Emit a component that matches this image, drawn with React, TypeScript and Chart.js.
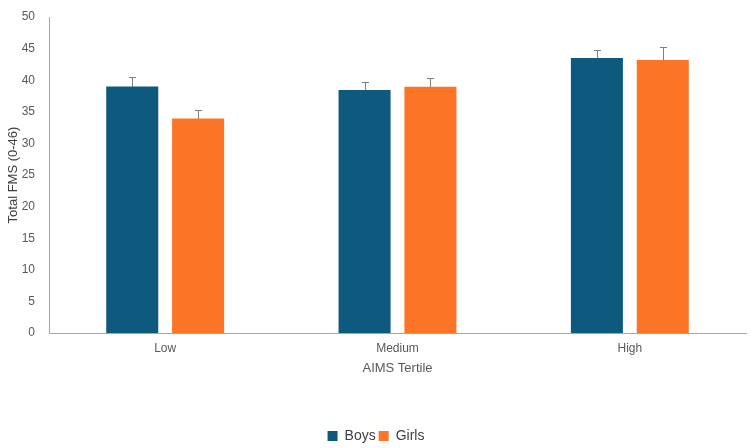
import React, { useEffect, useRef } from "react";
import { Chart, registerables } from "chart.js";

Chart.register(...registerables);

const categories = ["Low", "Medium", "High"];
const boysValues = [39.0, 38.45, 43.5];
const girlsValues = [33.95, 38.95, 43.2];
const boysErrors = [1.5, 1.3, 1.2];
const girlsErrors = [1.3, 1.38, 2.0];
const yTicks = [0, 5, 10, 15, 20, 25, 30, 35, 40, 45, 50];

const errorBarPlugin = {
  id: "errorBars",
  beforeDatasetsDraw(chart: any) {
    const ctx = chart.ctx;
    const yScale = chart.scales.y;
    const errs = [boysErrors, girlsErrors];
    chart.data.datasets.forEach((ds: any, di: number) => {
      const meta = chart.getDatasetMeta(di);
      meta.data.forEach((bar: any, i: number) => {
        const v = ds.data[i];
        const e = errs[di][i];
        const yTop = yScale.getPixelForValue(v + e);
        const yBot = yScale.getPixelForValue(v - e);
        const x = Math.round(bar.x) + 0.5;
        ctx.save();
        ctx.strokeStyle = "#7f7f7f";
        ctx.lineWidth = 1;
        ctx.beginPath();
        ctx.moveTo(x, yBot);
        ctx.lineTo(x, yTop);
        ctx.moveTo(x - 3.5, Math.round(yTop) + 0.5);
        ctx.lineTo(x + 3.5, Math.round(yTop) + 0.5);
        ctx.stroke();
        ctx.restore();
      });
    });
  },
};

export default function App() {
  const ref = useRef<HTMLCanvasElement | null>(null);
  useEffect(() => {
    if (!ref.current) return;
    const chart = new Chart(ref.current, {
      type: "bar",
      data: {
        labels: categories,
        datasets: [
          { label: "Boys", data: boysValues, backgroundColor: "#0e5a7e", borderWidth: 0 },
          { label: "Girls", data: girlsValues, backgroundColor: "#fc7527", borderWidth: 0 },
        ],
      },
      options: {
        animation: false,
        responsive: false,
        maintainAspectRatio: false,
        layout: { padding: { top: 0, right: 5, left: 6, bottom: -5 } },
        datasets: { bar: { categoryPercentage: 0.567, barPercentage: 0.79 } },
        plugins: {
          legend: {
            position: "bottom",
            labels: {
              boxWidth: 10,
              boxHeight: 10,
              color: "#404040",
              font: { family: "Liberation Sans", size: 14 },
              padding: 3,
            },
          },
          tooltip: { enabled: false },
        },
        scales: {
          x: {
            grid: { display: false, drawTicks: false },
            border: { color: "#a6a6a6", width: 1 },
            ticks: { color: "#595959", font: { family: "Liberation Sans", size: 12 }, padding: 8 },
            title: {
              display: true,
              text: "AIMS Tertile",
              color: "#595959",
              font: { family: "Liberation Sans", size: 13 },
              padding: { top: -3, bottom: 50 },
            },
          },
          y: {
            min: 0,
            max: 50,
            afterBuildTicks: (axis: any) => {
              axis.ticks = yTicks.map((v) => ({ value: v }));
            },
            afterFit: (scale: any) => {
              scale.width = 43;
              scale.paddingTop = 17;
              scale.paddingBottom = 7;
            },
            grid: { display: false, drawTicks: false },
            border: { color: "#a6a6a6", width: 1 },
            ticks: { color: "#595959", font: { family: "Liberation Sans", size: 12 }, padding: 14 },
            title: {
              display: true,
              text: "Total FMS (0-46)",
              color: "#404040",
              font: { family: "Liberation Sans", size: 13 },
              padding: { top: 0, bottom: 0 },
            },
          },
        },
      },
      plugins: [errorBarPlugin],
    });
    return () => chart.destroy();
  }, []);
  return (
    <div style={{ position: "fixed", left: 0, top: 0, width: 751, height: 448, background: "#fff" }}>
      <canvas ref={ref} width={751} height={448} style={{ display: "block" }} />
    </div>
  );
}
